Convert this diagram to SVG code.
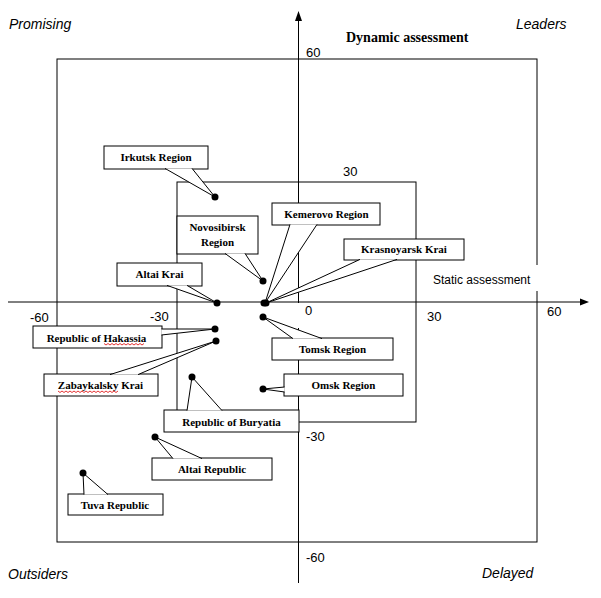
<svg xmlns="http://www.w3.org/2000/svg" width="601" height="598" viewBox="0 0 601 598">
<style>
.frame{fill:none;stroke:#000;stroke-width:1}
.axis{fill:none;stroke:#000;stroke-width:1}
.box{fill:#fff;stroke:#000;stroke-width:1}
.tail{fill:#fff;stroke:#000;stroke-width:1;stroke-linejoin:miter}
.dot{fill:#000}
.lbl{font-family:"Liberation Serif","Times New Roman",serif;font-weight:bold;font-size:11px;text-anchor:middle;fill:#000}
.num{font-family:"Liberation Sans",Arial,sans-serif;font-size:13px;fill:#000}
.quad{font-family:"Liberation Sans",Arial,sans-serif;font-style:italic;font-size:14px;fill:#000}
.squig{fill:none;stroke:#d00;stroke-width:0.8}
</style>
<rect width="601" height="598" fill="#fff"/>
<g id="frames">
<rect class="frame" x="57" y="59" width="480" height="483"/>
<rect class="frame" x="177" y="182" width="239" height="240"/>
</g>
<g id="axes">
<path class="axis" d="M8,302 H581"/>
<polygon points="580,298.5 589,302 580,305.5" fill="#000"/>
<path class="axis" d="M298.5,583 V20"/>
<polygon points="295,21 298.5,11 302,21" fill="#000"/>
<rect x="296" y="303" width="22" height="25" fill="#fff"/>
<rect x="425" y="265" width="120" height="26" fill="#fff"/>
</g>
<g id="axis-labels">
<text class="num" x="306" y="57">60</text>
<text class="num" x="343" y="176">30</text>
<text class="num" x="305" y="315">0</text>
<text class="num" x="427" y="321">30</text>
<text class="num" x="547" y="316">60</text>
<text class="num" x="30" y="322">-60</text>
<text class="num" x="150" y="321">-30</text>
<text class="num" x="306" y="441">-30</text>
<text class="num" x="306" y="562">-60</text>
<text x="346" y="42" font-family="Liberation Serif,Times New Roman,serif" font-weight="bold" font-size="14">Dynamic assessment</text>
<text x="433" y="284" font-family="Liberation Sans,Arial,sans-serif" font-size="12">Static assessment</text>
<text class="quad" x="9" y="29">Promising</text>
<text class="quad" x="516" y="29">Leaders</text>
<text class="quad" x="8" y="579">Outsiders</text>
<text class="quad" x="482" y="578">Delayed</text>
</g>
<g id="node-irkutsk">
<rect class="box" x="104" y="146" width="104" height="23"/>
<text class="lbl" x="156" y="161">Irkutsk Region</text>
</g>
<g id="node-novosibirsk">
<rect class="box" x="177" y="216" width="81" height="38"/>
<text class="lbl" x="217.5" y="231">Novosibirsk</text>
<text class="lbl" x="217.5" y="246">Region</text>
</g>
<g id="node-kemerovo">
<rect class="box" x="272" y="203" width="108" height="22"/>
<text class="lbl" x="326.5" y="217.5">Kemerovo Region</text>
</g>
<g id="node-krasnoyarsk">
<rect class="box" x="344" y="239" width="120" height="21"/>
<text class="lbl" x="404" y="253">Krasnoyarsk Krai</text>
</g>
<g id="node-altai-krai">
<rect class="box" x="117" y="263" width="85" height="23"/>
<text class="lbl" x="159.5" y="278">Altai Krai</text>
</g>
<g id="node-hakassia">
<rect class="box" x="33" y="326" width="129" height="22"/>
<text class="lbl" x="96.5" y="341.5">Republic of Hakassia</text>
<path class="squig" d="M104,343.5 l2,1.5 l2,-1.5 l2,1.5 l2,-1.5 l2,1.5 l2,-1.5 l2,1.5 l2,-1.5 l2,1.5 l2,-1.5 l2,1.5 l2,-1.5 l2,1.5 l2,-1.5 l2,1.5 l2,-1.5 l2,1.5 l2,-1.5 l2,1.5 l2,-1.5"/>
</g>
<g id="node-zabaykalsky">
<rect class="box" x="44" y="374" width="114" height="22"/>
<text class="lbl" x="100.5" y="389">Zabaykalsky Krai</text>
<path class="squig" d="M58,391 l2,1.5 l2,-1.5 l2,1.5 l2,-1.5 l2,1.5 l2,-1.5 l2,1.5 l2,-1.5 l2,1.5 l2,-1.5 l2,1.5 l2,-1.5 l2,1.5 l2,-1.5 l2,1.5 l2,-1.5 l2,1.5 l2,-1.5 l2,1.5 l2,-1.5 l2,1.5 l2,-1.5 l2,1.5 l2,-1.5 l2,1.5 l2,-1.5 l2,1.5 l2,-1.5 l2,1.5 l2,-1.5"/>
</g>
<g id="node-buryatia">
<rect class="box" x="164" y="410" width="135" height="22"/>
<text class="lbl" x="231.5" y="425.5">Republic of Buryatia</text>
</g>
<g id="node-altai-republic">
<rect class="box" x="152" y="458" width="120" height="22"/>
<text class="lbl" x="212" y="472.5">Altai Republic</text>
</g>
<g id="node-tuva">
<rect class="box" x="68" y="494" width="95" height="21"/>
<text class="lbl" x="115" y="508.5">Tuva Republic</text>
</g>
<g id="node-tomsk">
<rect class="box" x="272" y="338" width="121" height="22"/>
<text class="lbl" x="332.5" y="352.5">Tomsk Region</text>
</g>
<g id="node-omsk">
<rect class="box" x="284" y="374" width="119" height="22"/>
<text class="lbl" x="343.5" y="388.5">Omsk Region</text>
</g>
<g id="connectors">
<path class="tail" d="M165,168.4 L215,197 L192,168.4"/>
<path class="tail" d="M225,253.4 L263,281 L245,253.4"/>
<path class="tail" d="M290,224.4 L265,303 L317,224.4"/>
<path class="tail" d="M360,259.4 L266,303 L397,259.4"/>
<path class="tail" d="M167,285.4 L217,303 L187,285.4"/>
<path class="tail" d="M161.4,329 L215,329 L161.4,335"/>
<path class="tail" d="M110,374.6 L216,341 L138,374.6"/>
<path class="tail" d="M187,410.6 L192,377 L222,410.6"/>
<path class="tail" d="M173,458.6 L155,437 L202,458.6"/>
<path class="tail" d="M84,494.6 L83,473 L108,494.6"/>
<path class="tail" d="M293,338.6 L263,317 L322,338.6"/>
<path class="tail" d="M284.6,387 L263,389 L284.6,392"/>
<circle class="dot" cx="215" cy="197" r="3.5"/>
<circle class="dot" cx="263" cy="281" r="3.5"/>
<circle class="dot" cx="264" cy="303" r="3.5"/>
<circle class="dot" cx="266" cy="303" r="3.5"/>
<circle class="dot" cx="217" cy="303" r="3.5"/>
<circle class="dot" cx="215" cy="329" r="3.5"/>
<circle class="dot" cx="216" cy="341" r="3.5"/>
<circle class="dot" cx="192" cy="377" r="3.5"/>
<circle class="dot" cx="155" cy="437" r="3.5"/>
<circle class="dot" cx="83" cy="473" r="3.5"/>
<circle class="dot" cx="263" cy="317" r="3.5"/>
<circle class="dot" cx="263" cy="389" r="3.5"/>
</g>
</svg>
